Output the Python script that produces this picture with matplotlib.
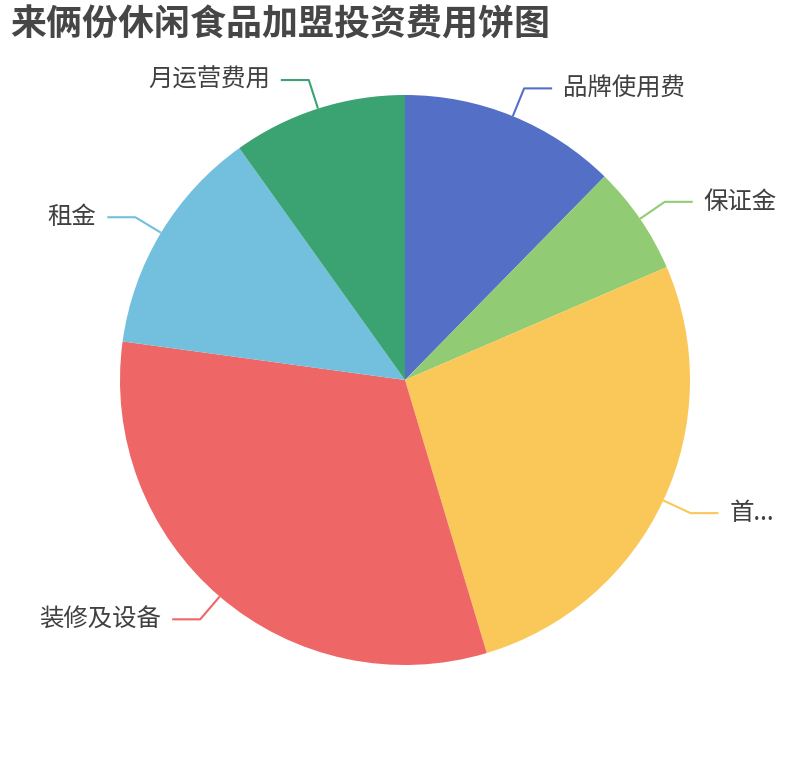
import numpy as np
import matplotlib
matplotlib.use("Agg")
import matplotlib.pyplot as plt

plt.rcParams['font.family'] = ['Noto Sans CJK SC', 'DejaVu Sans']

title = "来俩份休闲食品加盟投资费用饼图"
labels = ["品牌使用费", "保证金", "首...", "装修及设备", "租金", "月运营费用"]
values = [2.0, 1.0, 4.35, 5.15, 2.1, 1.6]
colors = ["#5470c6", "#91cc75", "#fac858", "#ee6666", "#73c0de", "#3ba272"]

W, H = 810, 760
fig = plt.figure(figsize=(W / 100, H / 100), dpi=100)
ax = fig.add_axes([0, 0, 1, 1])

cx, cy, r = 405, 380, 285
wedges, _ = ax.pie(values, colors=colors, startangle=90, counterclock=False,
                   center=(cx, cy), radius=r, frame=True,
                   wedgeprops=dict(linewidth=0))
ax.set_xlim(0, W)
ax.set_ylim(0, H)
ax.set_aspect('equal')
ax.axis('off')

# leader lines, echarts style: radial segment then horizontal one
l1, l2, gap = 30, 28, 11
for w, lab, col in zip(wedges, labels, colors):
    ang = np.deg2rad((w.theta1 + w.theta2) / 2)
    x0, y0 = cx + r * np.cos(ang), cy + r * np.sin(ang)
    x1, y1 = cx + (r + l1) * np.cos(ang), cy + (r + l1) * np.sin(ang)
    side = 1 if np.cos(ang) >= 0 else -1
    x2 = x1 + side * l2
    ax.plot([x0, x1, x2], [y0, y1, y1], color=col, lw=1.5, solid_capstyle='butt')
    ax.text(x2 + side * gap, y1, lab, fontsize=17.6, color='#404040',
            ha='left' if side > 0 else 'right', va='center')

fig.text(10 / W, 1 - 25 / H, title, fontsize=25.9, fontweight='bold',
         color='#464646', ha='left', va='center')

fig.savefig("out.png", dpi=100)
plt.close(fig)
